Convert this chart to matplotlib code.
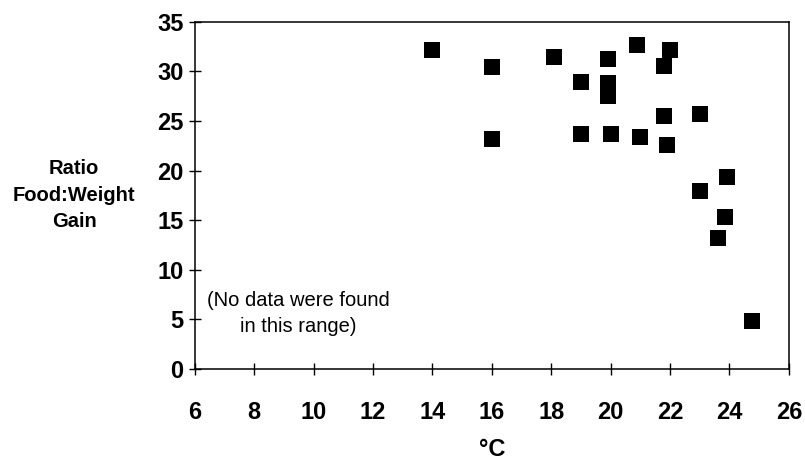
import matplotlib.pyplot as plt

plt.rcParams.update({"font.family": ["Liberation Sans", "DejaVu Sans"]})

# water temperature (deg C) and food:weight-gain ratio
temps = [14.0, 16.0, 16.0, 18.1, 19.9, 20.9, 22.0, 21.8, 19.0, 19.9, 19.9,
         21.8, 23.0, 19.0, 20.0, 21.0, 21.9, 23.9, 23.0, 23.85, 23.6, 24.75]
ratios = [32.2, 30.4, 23.2, 31.5, 31.3, 32.7, 32.2, 30.5, 28.9, 28.8, 27.5,
          25.5, 25.7, 23.7, 23.7, 23.4, 22.6, 19.3, 17.9, 15.3, 13.2, 4.8]

x_ticks = list(range(6, 27, 2))
y_ticks = list(range(0, 36, 5))

fig = plt.figure(figsize=(8.05, 4.65), dpi=100)
ax = fig.add_axes([0.242, 0.207, 0.738, 0.746])

ax.plot(temps, ratios, linestyle="none", marker="s", markersize=11,
        color="black", markeredgewidth=0)

ax.set_xlim(6, 26)
ax.set_ylim(0, 35)
ax.set_xticks(x_ticks)
ax.set_yticks(y_ticks)
ax.tick_params(axis="both", direction="inout", length=8, width=1,
               labelsize=17)
ax.tick_params(axis="x", pad=19)
ax.tick_params(axis="y", pad=4)
for lab in ax.get_xticklabels() + ax.get_yticklabels():
    lab.set_fontweight("bold")
for sp in ax.spines.values():
    sp.set_linewidth(1.1)

ax.set_xlabel("°C", fontsize=17, fontweight="bold", labelpad=10)

fig.text(74 / 805, 1 - 195 / 465, "Ratio\nFood:Weight\nGain", ha="center",
         va="center", fontsize=14.5, fontweight="bold", linespacing=1.5)

ax.text(9.47, 5.6, "(No data were found\nin this range)", ha="center",
        va="center", fontsize=14.5, linespacing=1.45)

fig.savefig("out.png", dpi=100)
